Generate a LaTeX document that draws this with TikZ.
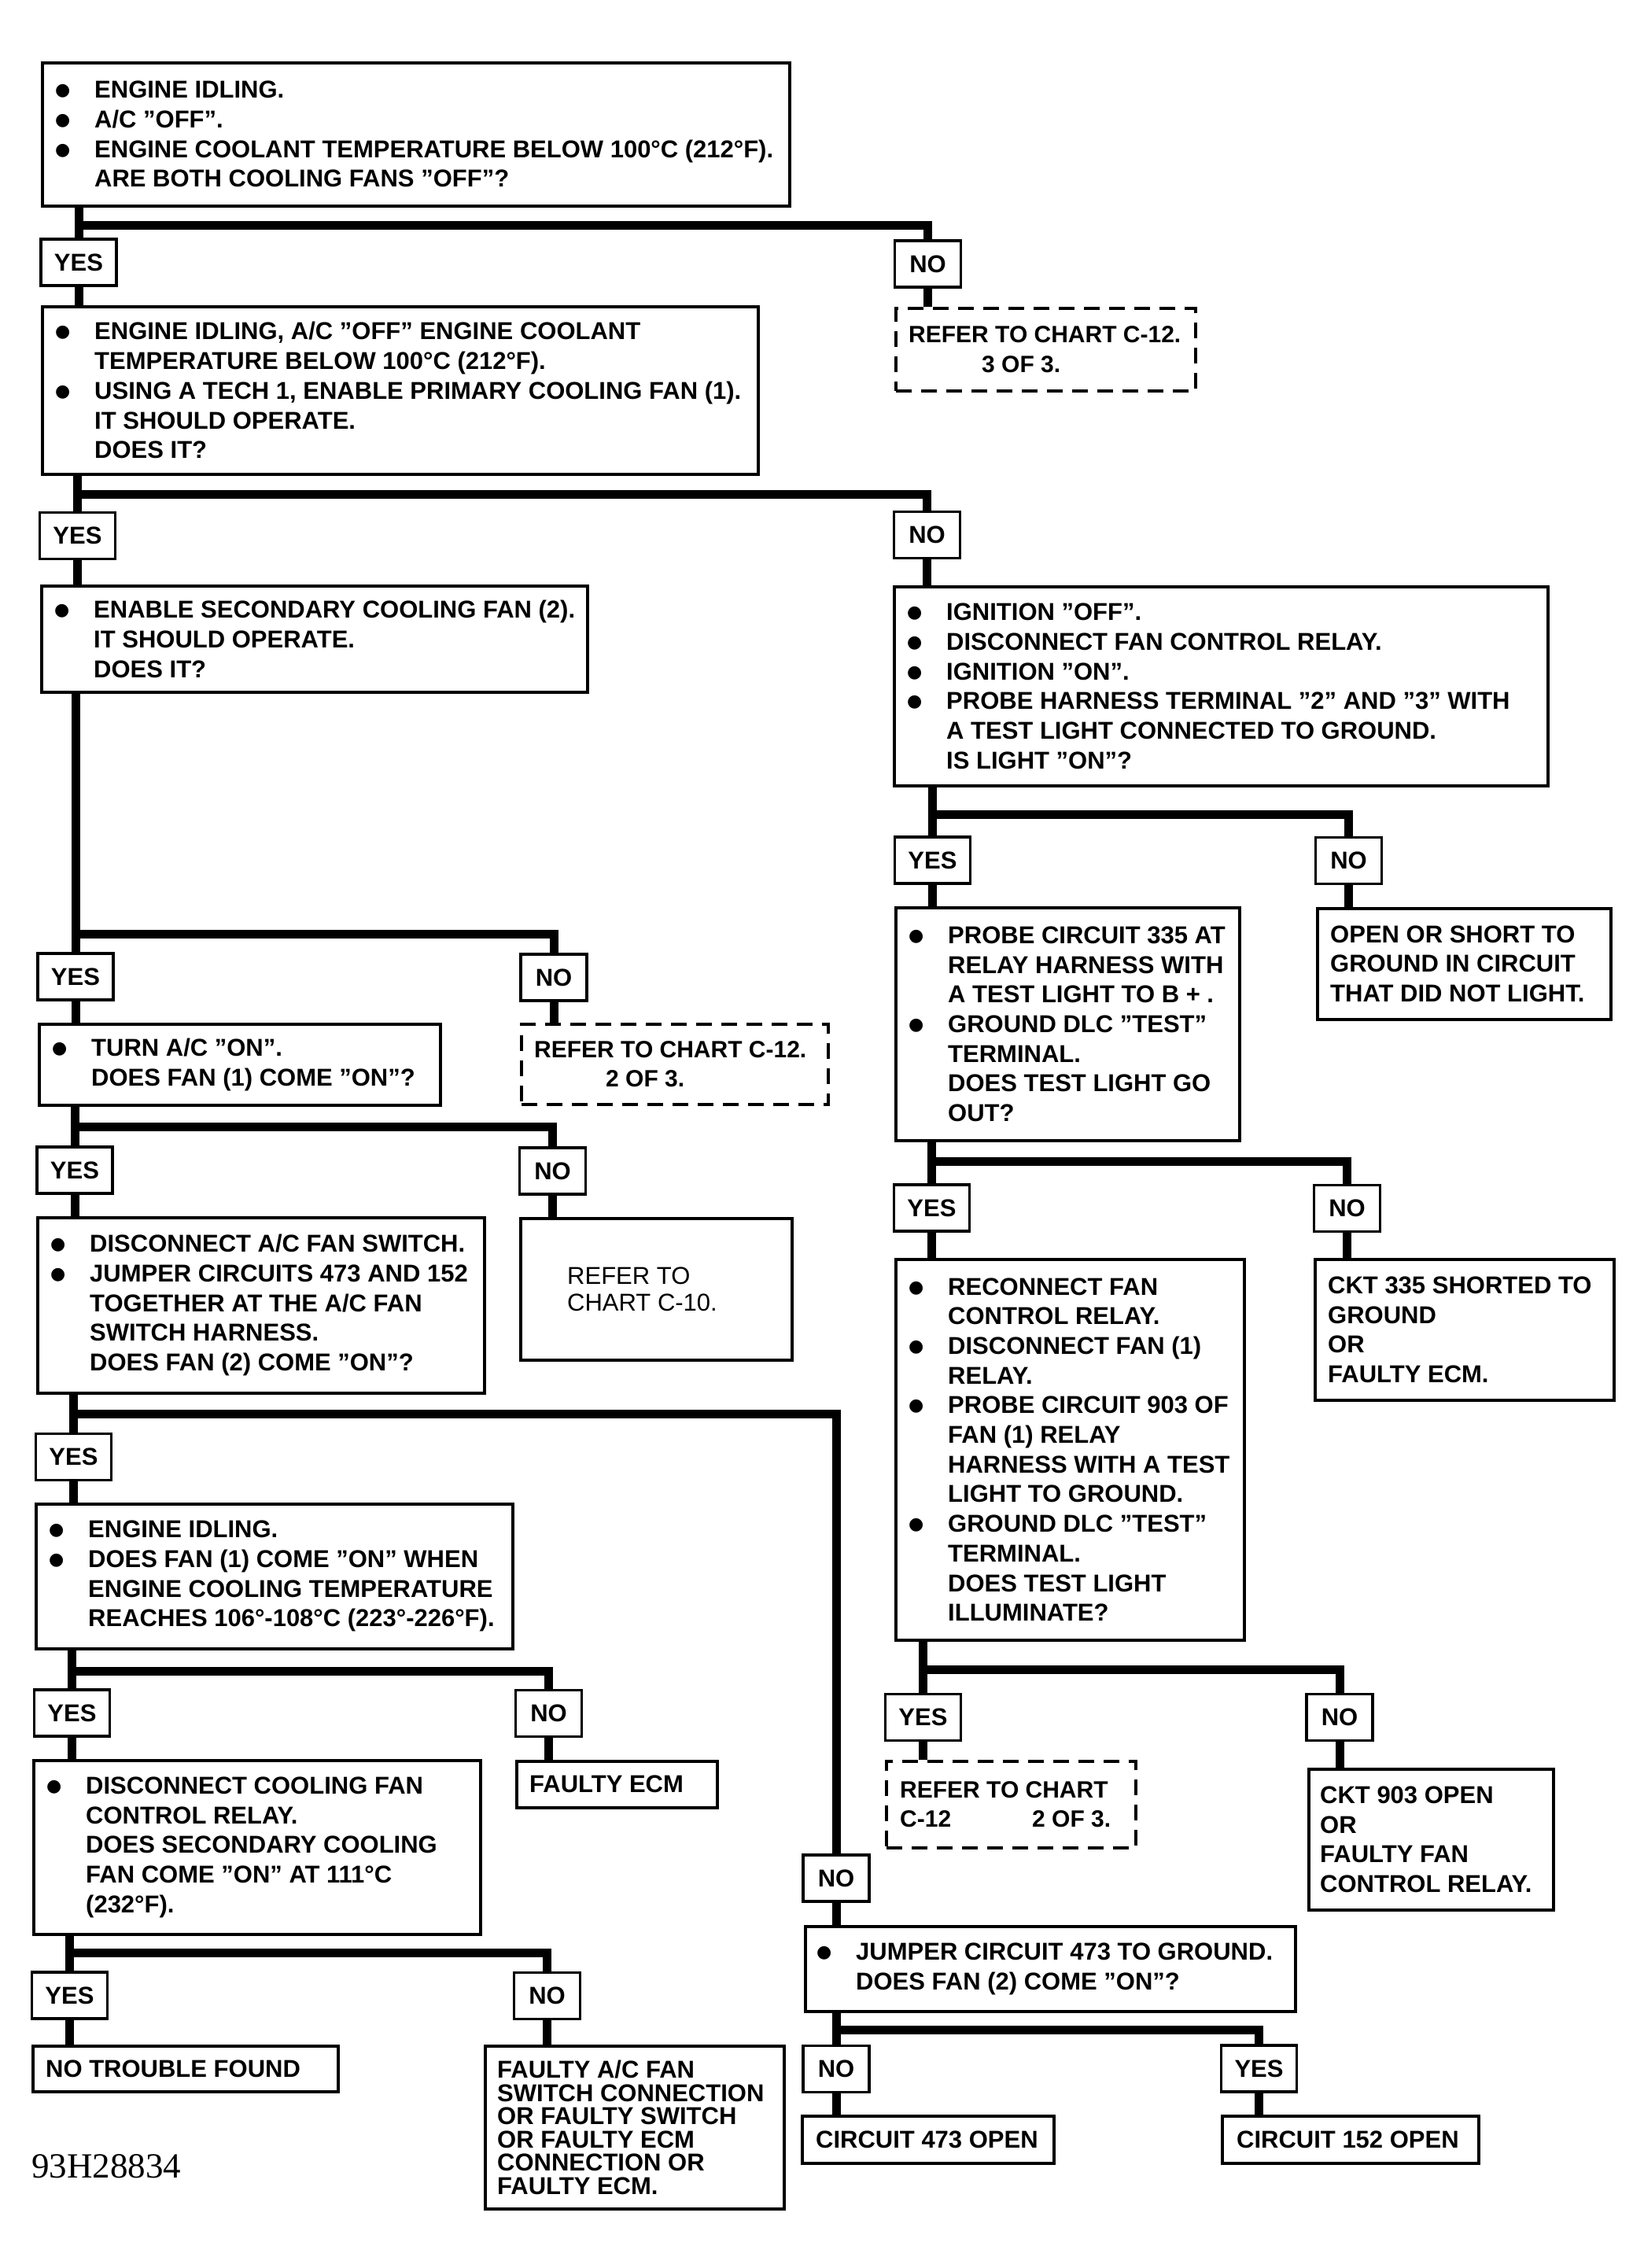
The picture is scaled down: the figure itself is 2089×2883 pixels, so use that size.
\documentclass[tikz,border=0pt]{standalone}
\usepackage{fontspec}
\setmainfont{Liberation Sans}
\newfontfamily\serf{Liberation Serif}
\newfontfamily\dvs{DejaVu Sans}
\usetikzlibrary{calc}
\newcommand\bu{\makebox[50pt][l]{\raisebox{3pt}{\dvs\fontsize{22}{22}\selectfont ●}}}
\newcommand\ind{\hspace*{50pt}}
\begin{document}
\begin{tikzpicture}[x=1pt,y=-1pt,
  box/.style={draw, line width=3.5pt, inner sep=0pt, anchor=north west},
  dbox/.style={box, dash pattern=on 20pt off 12pt},
  txt/.style={inner sep=0pt, align=left, anchor=west, font=\fontsize{31}{37.7}\selectfont\bfseries},
  dtxt/.style={txt, font=\fontsize{30}{37.7}\selectfont\bfseries},
  lab/.style={draw, line width=3.5pt, inner sep=0pt, minimum height=59pt, font=\fontsize{31}{36}\selectfont\bfseries},
  yesl/.style={lab, minimum width=96pt},
  nol/.style={lab, minimum width=84pt},
  conn/.style={line width=11pt},
]
\fill[white] (0,0) rectangle (2089,2883);
\useasboundingbox (0,0) rectangle (2089,2883);

% ---------- boxes ----------
\node[box, minimum width=950pt, minimum height=182pt] (b1) at (52,78) {};
\node[txt] (t1) at ([xshift=18pt]b1.west) {\bu ENGINE IDLING.\\ \bu A/C "OFF".\\ \bu ENGINE COOLANT TEMPERATURE BELOW 100°C (212°F).\\ \ind ARE BOTH COOLING FANS "OFF"?};

\node[dbox, minimum width=381pt, minimum height=105pt] (d1) at (1137,390) {};
\node[dtxt] (td1) at ([xshift=18pt]d1.west) {REFER TO CHART C-12.\\ \hspace*{93pt}3 OF 3.};

\node[box, minimum width=910pt, minimum height=213pt] (b2) at (52,388) {};
\node[txt] (t2) at ([xshift=18pt]b2.west) {\bu ENGINE IDLING, A/C "OFF" ENGINE COOLANT\\ \ind TEMPERATURE BELOW 100°C (212°F).\\ \bu USING A TECH 1, ENABLE PRIMARY COOLING FAN (1).\\ \ind IT SHOULD OPERATE.\\ \ind DOES IT?};

\node[box, minimum width=694pt, minimum height=135pt] (b3) at (51,743) {};
\node[txt] (t3) at ([xshift=18pt]b3.west) {\bu ENABLE SECONDARY COOLING FAN (2).\\ \ind IT SHOULD OPERATE.\\ \ind DOES IT?};

\node[box, minimum width=831pt, minimum height=253pt] (b4) at (1135,744) {};
\node[txt] (t4) at ([xshift=18pt]b4.west) {\bu IGNITION "OFF".\\ \bu DISCONNECT FAN CONTROL RELAY.\\ \bu IGNITION "ON".\\ \bu PROBE HARNESS TERMINAL "2" AND "3" WITH\\ \ind A TEST LIGHT CONNECTED TO GROUND.\\ \ind IS LIGHT "ON"?};

\node[box, minimum width=510pt, minimum height=103pt] (b5) at (48,1300) {};
\node[txt] (t5) at ([xshift=18pt]b5.west) {\bu TURN A/C "ON".\\ \ind DOES FAN (1) COME "ON"?};

\node[dbox, minimum width=390pt, minimum height=102pt] (d2) at (661,1300) {};
\node[dtxt] (td2) at ([xshift=18pt]d2.west) {REFER TO CHART C-12.\\ \hspace*{91pt}2 OF 3.};

\node[box, minimum width=568pt, minimum height=223pt] (b6) at (46,1546) {};
\node[txt] (t6) at ([xshift=18pt]b6.west) {\bu DISCONNECT A/C FAN SWITCH.\\ \bu JUMPER CIRCUITS 473 AND 152\\ \ind TOGETHER AT THE A/C FAN\\ \ind SWITCH HARNESS.\\ \ind DOES FAN (2) COME "ON"?};

\node[box, minimum width=345pt, minimum height=180pt] (b7) at (660,1547) {};
\node[txt, font=\fontsize{31}{34}\selectfont] (t7) at ([xshift=61pt]b7.west) {REFER TO\\CHART C-10.};

\node[box, minimum width=606pt, minimum height=184pt] (b8) at (44,1910) {};
\node[txt] (t8) at ([xshift=18pt]b8.west) {\bu ENGINE IDLING.\\ \bu DOES FAN (1) COME "ON" WHEN\\ \ind ENGINE COOLING TEMPERATURE\\ \ind REACHES 106°-108°C (223°-226°F).};

\node[box, minimum width=568pt, minimum height=221pt] (b9) at (41,2236) {};
\node[txt] (t9) at ([xshift=18pt]b9.west) {\bu DISCONNECT COOLING FAN\\ \ind CONTROL RELAY.\\ \ind DOES SECONDARY COOLING\\ \ind FAN COME "ON" AT 111°C\\ \ind (232°F).};

\node[box, minimum width=255pt, minimum height=59pt] (b10) at (655,2237) {};
\node[txt] (t10) at ([xshift=18pt]b10.west) {FAULTY ECM};

\node[box, minimum width=388pt, minimum height=58pt] (b11) at (40,2599) {};
\node[txt] (t11) at ([xshift=18pt]b11.west) {NO TROUBLE FOUND};

\node[box, minimum width=380pt, minimum height=207pt] (b12) at (615,2599) {};
\node[txt, font=\fontsize{31}{29.5}\selectfont\bfseries] (t12) at ([xshift=17pt]b12.west) {FAULTY A/C FAN\\SWITCH CONNECTION\\OR FAULTY SWITCH\\OR FAULTY ECM\\CONNECTION OR\\FAULTY ECM.};

\node[box, minimum width=437pt, minimum height=296pt] (b13) at (1137,1152) {};
\node[txt] (t13) at ([xshift=18pt]b13.west) {\bu PROBE CIRCUIT 335 AT\\ \ind RELAY HARNESS WITH\\ \ind A TEST LIGHT TO B + .\\ \bu GROUND DLC "TEST"\\ \ind TERMINAL.\\ \ind DOES TEST LIGHT GO\\ \ind OUT?};

\node[box, minimum width=373pt, minimum height=141pt] (b14) at (1673,1153) {};
\node[txt] (t14) at ([xshift=18pt]b14.west) {OPEN OR SHORT TO\\GROUND IN CIRCUIT\\THAT DID NOT LIGHT.};

\node[box, minimum width=443pt, minimum height=484pt] (b15) at (1137,1599) {};
\node[txt] (t15) at ([xshift=18pt]b15.west) {\bu RECONNECT FAN\\ \ind CONTROL RELAY.\\ \bu DISCONNECT FAN (1)\\ \ind RELAY.\\ \bu PROBE CIRCUIT 903 OF\\ \ind FAN (1) RELAY\\ \ind HARNESS WITH A TEST\\ \ind LIGHT TO GROUND.\\ \bu GROUND DLC "TEST"\\ \ind TERMINAL.\\ \ind DOES TEST LIGHT\\ \ind ILLUMINATE?};

\node[box, minimum width=380pt, minimum height=179pt] (b16) at (1670,1599) {};
\node[txt] (t16) at ([xshift=18pt]b16.west) {CKT 335 SHORTED TO\\GROUND\\OR\\FAULTY ECM.};

\node[dbox, minimum width=317pt, minimum height=110pt] (d3) at (1125,2237) {};
\node[dtxt] (td3) at ([xshift=19pt]d3.west) {REFER TO CHART\\ \makebox[168pt][l]{C-12}2 OF 3.};

\node[box, minimum width=311pt, minimum height=179pt] (b17) at (1662,2247) {};
\node[txt] (t17) at ([xshift=16pt]b17.west) {CKT 903 OPEN\\OR\\FAULTY FAN\\CONTROL RELAY.};

\node[box, minimum width=623pt, minimum height=108pt] (b18) at (1022,2447) {};
\node[txt] (t18) at ([xshift=16pt]b18.west) {\bu JUMPER CIRCUIT 473 TO GROUND.\\ \ind DOES FAN (2) COME "ON"?};

\node[box, minimum width=320pt, minimum height=60pt] (b19) at (1018,2688) {};
\node[txt] (t19) at ([xshift=19pt]b19.west) {CIRCUIT 473 OPEN};

\node[box, minimum width=326pt, minimum height=60pt] (b20) at (1552,2688) {};
\node[txt] (t20) at ([xshift=20pt]b20.west) {CIRCUIT 152 OPEN};

\node[inner sep=0pt, anchor=west, font=\serf\fontsize{45}{45}\selectfont] (code) at (40,2754) {93H28834};

% ---------- labels ----------
\node[yesl] (yes1) at (100,333.5) {YES};
\node[nol]  (no1)  at (1179.5,335.5) {NO};
\node[yesl] (yes2) at (98.5,681) {YES};
\node[nol]  (no2)  at (1178.5,680) {NO};
\node[yesl] (yes3) at (96,1241.5) {YES};
\node[nol]  (no3)  at (704,1242.5) {NO};
\node[yesl] (yes4) at (95,1487.5) {YES};
\node[nol]  (no4)  at (702.5,1488.5) {NO};
\node[yesl] (yes5) at (93.5,1852) {YES};
\node[nol]  (no5)  at (1063,2387.5) {NO};
\node[yesl] (yes6) at (91.5,2177.5) {YES};
\node[nol]  (no6)  at (697.5,2178) {NO};
\node[yesl] (yes7) at (88.5,2536.5) {YES};
\node[nol]  (no7)  at (695.5,2537) {NO};
\node[yesl] (yes8) at (1185.5,1093.5) {YES};
\node[nol]  (no8)  at (1714.5,1094) {NO};
\node[yesl] (yes9) at (1184.5,1535.5) {YES};
\node[nol]  (no9)  at (1712.5,1536) {NO};
\node[yesl] (yes10) at (1173.5,2183) {YES};
\node[nol]  (no10)  at (1703,2183) {NO};
\node[nol]  (no11)  at (1063,2630) {NO};
\node[yesl] (yes11) at (1600.5,2629.5) {YES};

% ---------- junction levels ----------
\coordinate (j1) at (0,286);
\coordinate (j2) at (0,628);
\coordinate (j3) at (0,1187);
\coordinate (j4) at (0,1432);
\coordinate (j5) at (0,1797);
\coordinate (j6) at (0,2124);
\coordinate (j7) at (0,2482);
\coordinate (j8) at (0,1035);
\coordinate (j9) at (0,1476);
\coordinate (j10) at (0,2122);
\coordinate (j11) at (0,2580);

% ---------- connectors ----------
% b1
\draw[conn] (b1.south -| yes1) -- (yes1.north);
\draw[conn] (yes1 |- j1) -| (no1.north);
\draw[conn] (yes1.south) -- (yes1.south |- b2.north);
\draw[conn] (no1.south) -- (no1.south |- d1.north);
% b2
\draw[conn] (b2.south -| yes2) -- (yes2.north);
\draw[conn] (yes2 |- j2) -| (no2.north);
\draw[conn] (yes2.south) -- (yes2.south |- b3.north);
\draw[conn] (no2.south) -- (no2.south |- b4.north);
% b3
\draw[conn] (b3.south -| yes3) -- (yes3.north);
\draw[conn] (yes3 |- j3) -| (no3.north);
\draw[conn] (yes3.south) -- (yes3.south |- b5.north);
\draw[conn] (no3.south) -- (no3.south |- d2.north);
% b5
\draw[conn] (b5.south -| yes4) -- (yes4.north);
\draw[conn] (yes4 |- j4) -| (no4.north);
\draw[conn] (yes4.south) -- (yes4.south |- b6.north);
\draw[conn] (no4.south) -- (no4.south |- b7.north);
% b6
\draw[conn] (b6.south -| yes5) -- (yes5.north);
\draw[conn] (yes5 |- j5) -| (no5.north);
\draw[conn] (yes5.south) -- (yes5.south |- b8.north);
\draw[conn] (no5.south) -- (no5.south |- b18.north);
% b8
\draw[conn] (b8.south -| yes6) -- (yes6.north);
\draw[conn] (yes6 |- j6) -| (no6.north);
\draw[conn] (yes6.south) -- (yes6.south |- b9.north);
\draw[conn] (no6.south) -- (no6.south |- b10.north);
% b9
\draw[conn] (b9.south -| yes7) -- (yes7.north);
\draw[conn] (yes7 |- j7) -| (no7.north);
\draw[conn] (yes7.south) -- (yes7.south |- b11.north);
\draw[conn] (no7.south) -- (no7.south |- b12.north);
% b4
\draw[conn] (b4.south -| yes8) -- (yes8.north);
\draw[conn] (yes8 |- j8) -| (no8.north);
\draw[conn] (yes8.south) -- (yes8.south |- b13.north);
\draw[conn] (no8.south) -- (no8.south |- b14.north);
% b13
\draw[conn] (b13.south -| yes9) -- (yes9.north);
\draw[conn] (yes9 |- j9) -| (no9.north);
\draw[conn] (yes9.south) -- (yes9.south |- b15.north);
\draw[conn] (no9.south) -- (no9.south |- b16.north);
% b15
\draw[conn] (b15.south -| yes10) -- (yes10.north);
\draw[conn] (yes10 |- j10) -| (no10.north);
\draw[conn] (yes10.south) -- (yes10.south |- d3.north);
\draw[conn] (no10.south) -- (no10.south |- b17.north);
% b18
\draw[conn] (b18.south -| no11) -- (no11.north);
\draw[conn] (no11 |- j11) -| (yes11.north);
\draw[conn] (no11.south) -- (no11.south |- b19.north);
\draw[conn] (yes11.south) -- (yes11.south |- b20.north);
\end{tikzpicture}
\end{document}
